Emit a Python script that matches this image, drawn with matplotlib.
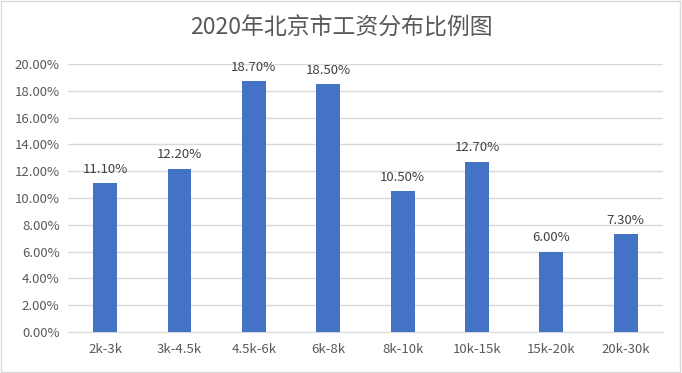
import matplotlib.pyplot as plt
from matplotlib.patches import Rectangle
from matplotlib.ticker import FuncFormatter

plt.rcParams['font.family'] = ['Noto Sans CJK SC', 'DejaVu Sans']

categories = ["2k-3k", "3k-4.5k", "4.5k-6k", "6k-8k", "8k-10k", "10k-15k", "15k-20k", "20k-30k"]
shares = [11.10, 12.20, 18.70, 18.50, 10.50, 12.70, 6.00, 7.30]
title = "2020年北京市工资分布比例图"

fig = plt.figure(figsize=(6.82, 3.73), dpi=100)
ax = fig.add_axes([0.0997, 0.110, 0.8723, 0.7184])

x = list(range(len(categories)))
ax.bar(x, shares, width=0.32, color="#4472C4", zorder=3)
for xi, v in zip(x, shares):
    ax.text(xi, v + 0.55, f"{v:.2f}%", ha="center", va="bottom", fontsize=9.5, color="#404040")

ax.set_xlim(-0.5, len(categories) - 0.5)
ax.set_ylim(0, 20)
ax.set_yticks(range(0, 21, 2))
ax.yaxis.set_major_formatter(FuncFormatter(lambda v, p: f"{v:.2f}%"))
ax.set_xticks(x)
ax.set_xticklabels(categories)
ax.tick_params(axis="both", length=0, labelsize=9.5, colors="#595959")
ax.tick_params(axis="x", pad=8)
ax.tick_params(axis="y", pad=6)
ax.grid(axis="y", color="#D9D9D9", linewidth=1, zorder=0)
for s in ["top", "right", "left"]:
    ax.spines[s].set_visible(False)
ax.spines["bottom"].set_color("#D9D9D9")

fig.text(0.5, 0.925, title, ha="center", va="center", fontsize=16.5, color="#595959")
fig.patches.append(Rectangle((0.002, 0.003), 0.995, 0.993, transform=fig.transFigure,
                             fill=False, edgecolor="#D9D9D9", linewidth=1))

fig.savefig("out.png", dpi=100)
